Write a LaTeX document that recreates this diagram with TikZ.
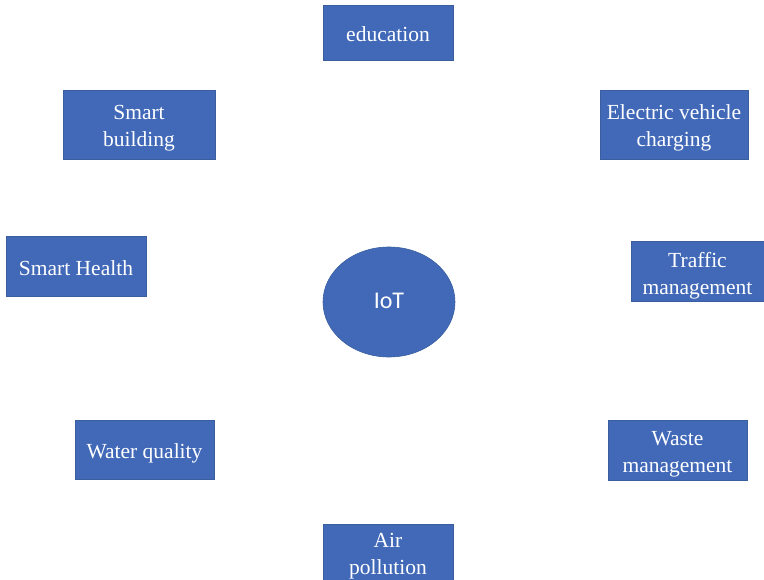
\documentclass[tikz,border=0pt]{standalone}
\usepackage{fontspec}
\usetikzlibrary{shapes.geometric}
\setmainfont{Liberation Serif}
\newfontfamily\iotfont{Carlito}
\definecolor{boxblue}{HTML}{4169B8}
\definecolor{boxedge}{HTML}{3A5E9E}
\begin{document}
\begin{tikzpicture}[x=1pt,y=-1pt,
  topic/.style={draw=boxedge, line width=0.6pt, fill=boxblue, inner sep=0pt},
  topictext/.style={text=white, align=center, inner sep=0pt,
    font=\fontsize{21.5}{27}\selectfont},
  hub/.style={ellipse, draw=boxedge, line width=0.6pt, fill=boxblue, inner sep=0pt},
  hubtext/.style={text=white, inner sep=0pt, font=\iotfont\fontsize{24}{26}\selectfont}]
\useasboundingbox (0,0) rectangle (764,580);
% topic boxes around the hub
\node[topic, minimum width=130pt, minimum height=55pt] (edu) at (388,32.5) {};
\node[topic, minimum width=152pt, minimum height=69pt] (build) at (139,124.5) {};
\node[topic, minimum width=148pt, minimum height=69pt] (ev) at (674,124.5) {};
\node[topic, minimum width=140pt, minimum height=60pt] (health) at (76,266) {};
\node[topic, minimum width=133pt, minimum height=60pt] (traffic) at (697.5,271) {};
\node[topic, minimum width=139pt, minimum height=59pt] (water) at (144.5,449.5) {};
\node[topic, minimum width=139pt, minimum height=60pt] (waste) at (677.5,450) {};
\node[topic, minimum width=130pt, minimum height=56pt] (air) at (388,552) {};
% their labels, set a little below the box centres
\node[topictext] (edu-t) at ([yshift=-1.5pt]edu.center) {education};
\node[topictext] (build-t) at ([yshift=-3.5pt]build.center) {Smart\\building};
\node[topictext] (ev-t) at ([yshift=-3.5pt]ev.center) {Electric vehicle\\charging};
\node[topictext] (health-t) at ([yshift=-2.5pt]health.center) {Smart Health};
\node[topictext] (traffic-t) at ([yshift=-4.5pt]traffic.center) {Traffic\\management};
\node[topictext] (water-t) at ([yshift=-3.5pt]water.center) {Water quality};
\node[topictext] (waste-t) at ([yshift=-4pt]waste.center) {Waste\\management};
\node[topictext] (air-t) at ([yshift=-4.5pt]air.center) {Air\\pollution};
% central hub
\node[hub, minimum width=132pt, minimum height=110pt] (iot) at (389,302) {};
\node[hubtext] (iot-t) at ([yshift=1pt]iot.center) {IoT};
\end{tikzpicture}
\end{document}
